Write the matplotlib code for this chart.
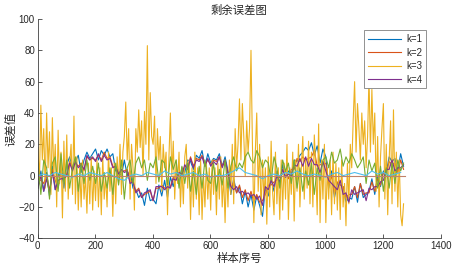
import matplotlib
matplotlib.use("Agg")
import matplotlib.pyplot as plt
import numpy as np

plt.rcParams["font.family"] = ["Liberation Sans", "Noto Sans CJK SC", "DejaVu Sans"]

TITLE = "剩余误差图"
XLABEL = "样本序号"
YLABEL = "误差值"
LEGEND_LABELS = ["k=1", "k=2", "k=3", "k=4"]

# residual errors, k=1 (sampled every 10 points)
k1_err = [
    -8, 3, -10, 2, -13, 6, -9, 0, 4, -8,
    7, 12, 5, 9, 13, 2, 10, 15, 11, 14,
    17, 10, 16, 13, 17, 12, 14, 3, 2, 0,
    10, 0, 3, -8, -9, -14, -11, -19, -8, -16,
    -15, -18, -6, -13, -3, -14, -1, -7, 2, -4,
    5, 2, 10, 9, 4, 13, 11, 16, 6, 14,
    8, 11, 10, 14, 6, 12, 3, -12, -2, -11,
    -7, -18, -10, -20, -12, -22, -13, -19, -26, -8,
    -13, -2, -10, 3, -6, 7, -1, 3, 0, 10,
    9, 13, 15, 18, 16, 21, 13, 19, 8, 17,
    12, -8, 3, -14, -5, -6, -7, -17, -14, -15,
    -7, -17, -5, -14, -12, -10, -2, -12, 0, -7,
    3, 2, 12, 9, 11, 3, 14, 6,
]

# k=2 (every 10 points)
k2_err = [
    -2, -3, -5, 1, -10, 4, -3, -8, 3, -1,
    1, 9, 4, 8, 6, 8, 3, 12, 10, 11,
    10, 13, 10, 15, 11, 12, 6, 5, 0, 3,
    3, 4, -4, -3, -10, -8, -14, -12, -11, -10,
    -16, -8, -8, -6, -8, -8, -7, -1, -2, 1,
    0, 6, 5, 12, 6, 11, 10, 13, 7, 10,
    7, 10, 9, 12, 6, 10, 1, -8, -4, -11,
    -6, -14, -9, -16, -10, -17, -12, -17, -16, -12,
    -6, -6, -4, -3, -1, 1, 3, -2, 4, 4,
    11, 9, 12, 10, 11, 12, 16, 6, 7, 7,
    8, -6, 0, -12, -4, -6, -7, -14, -12, -12,
    -7, -14, -5, -12, -11, -11, -4, -10, -2, -6,
    2, 1, 9, 7, 8, 2, 10, 4,
]

# k=3 (every 5 points)
k3_err = [
    18, -5, 45, 10, 30, -8, 40, 5, 28, -12,
    37, 0, 20, -20, 29, -5, 15, -27, 22, -10,
    26, -15, 8, 20, -12, 38, -18, 12, -22, 5,
    -20, 10, -15, 0, -24, 8, -18, 12, -22, 3,
    -16, 10, -20, 5, -25, 12, -15, 0, -20, 15,
    -10, 5, -26, 8, -18, 12, -5, 20, -12, 15,
    25, 47, 10, 30, -15, 20, 5, -22, 30, 15,
    42, 18, 35, 0, 41, 20, 83, 10, 53, 25,
    20, 38, -5, 30, 10, 25, -10, 20, 5, 15,
    -25, 12, 40, 0, 22, -15, 10, -5, 15, -20,
    5, -18, 12, 20, -8, 10, -28, 5, -20, 15,
    -15, 5, -25, 10, -28, 0, -20, 8, -15, 5,
    -22, 10, -12, 5, -25, 8, -15, 12, -20, 0,
    -30, 5, -20, 10, -12, 20, -18, 30, 5, 20,
    49, 10, 46, 25, 0, 35, 15, 30, 80, 20,
    -30, 15, 40, -10, 20, -25, 10, -15, 5, -31,
    12, -20, 22, -10, -25, 15, -18, 5, -28, 10,
    -22, 8, -15, 20, -28, 5, -12, 15, -29, 10,
    -10, 20, -20, 5, 25, -15, 10, -8, 22, -18,
    15, -20, 26, 5, -25, 33, -30, 10, -15, 20,
    -30, 5, -15, 10, -25, 15, -18, 8, -22, 5,
    -28, 10, -20, -5, -32, 8, -18, 20, 5, 35,
    60, 15, 46, 30, 10, 40, 20, 35, 5, 25,
    63, 15, 55, 20, 40, -10, 25, -20, 12, 30,
    46, -15, 20, -25, 10, 35, -18, 42, -10, 15,
    -20, 10, -25, -32, -18,
]

# k=4 (every 10 points)
k4_err = [
    -8, 0, -10, -2, -11, 2, -9, -3, -2, -2,
    0, 8, 3, 9, 5, 7, 4, 13, 10, 12,
    9, 14, 9, 13, 10, 11, 5, 6, 1, 4,
    2, 3, -5, -4, -11, -9, -14, -11, -10, -9,
    -16, -7, -7, -7, -9, -7, -8, -2, -3, 2,
    1, 7, 4, 11, 5, 10, 9, 12, 6, 11,
    6, 9, 7, 12, 5, 10, 2, -7, -9, -7,
    -11, -10, -12, -11, -13, -12, -15, -13, -19, -7,
    -9, -3, -7, 0, -4, 4, -1, 1, 0, 7,
    6, 11, 6, 12, 6, 11, 7, 7, 2, 9,
    3, -3, -5, -7, -9, -3, -12, -11, -17, -9,
    -12, -11, -10, -9, -16, -8, -9, -7, -7, -4,
    -3, 4, 4, 10, 3, 5, 5, 7,
]

# k=5 (every 10 points, not in legend)
k5_err = [
    8, -12, 10, 5, -15, 8, 12, -10, 14, -5,
    10, -8, 5, 12, -10, 8, -5, 10, -3, 6,
    -5, 8, -10, 2, -8, 5, -12, 8, -6, 10,
    -15, 5, 10, -5, 8, 12, 5, 10, -3, 8,
    5, 12, -4, 10, 8, -6, 12, 4, 10, -8,
    6, -5, 8, -10, 3, -12, 6, -8, 10, -3,
    -5, 8, -10, 4, -6, 10, -8, 6, 12, 3,
    8, 5, 12, 15, 10, 8, 16, 12, 5, 10,
    8, -3, 12, 5, -8, 10, 3, 8, -5, 10,
    -8, 5, -10, 3, -6, 8, -12, 5, -3, 10,
    12, 5, 15, 8, 10, 17, 6, 12, 8, 14,
    10, 5, 8, 12, -5, 10, 3, 8, -8, 6,
    -10, 5, -8, 8, -5, 10, 3, 8,
]

# k=6 (every 20 points, not in legend)
k6_err = [
    0, 1, 0, 2, 1, 0, -1, 1, 0, 2, 1, 0, 2, 0, -2, -3,
    0, 1, 0, 2, 1, 0, 3, 1, 2, 0, 1, 2, 0, 1, -1, 0,
    0, 1, 3, 5, 2, 1, 0, -2, 0, 1, 0, 2, 1, 3, 1, 0,
    1, 0, -1, 1, 2, 0, 1, 2, 1, 0, 3, 1, 2, 0, 1, 2,
]

# k=7 flat residual
k7_idx = [1, 1275]
k7_err = [0, 0]

COLORS = ["#0072BD", "#D95319", "#EDB120", "#7E2F8E", "#77AC30", "#4DBEEE", "#C0826A"]


def idx(values, step):
    return 1 + step * np.arange(len(values))


fig = plt.figure(figsize=(4.53, 2.71), dpi=100)
ax = fig.add_axes([0.0832, 0.1207, 0.8896, 0.8092])

series = [
    (idx(k1_err, 10), k1_err),
    (idx(k2_err, 10), k2_err),
    (idx(k3_err, 5), k3_err),
    (idx(k4_err, 10), k4_err),
    (idx(k5_err, 10), k5_err),
    (idx(k6_err, 20), k6_err),
    (k7_idx, k7_err),
]
handles = []
for i, (xs, ys) in enumerate(series):
    (ln,) = ax.plot(xs, ys, color=COLORS[i], lw=0.8)
    handles.append(ln)

ax.set_xlim(0, 1400)
ax.set_ylim(-40, 100)
ax.set_xticks(np.arange(0, 1401, 200))
ax.set_yticks(np.arange(-40, 101, 20))

txt = "#262626"
ax.tick_params(direction="in", length=3, width=0.6, colors="#404040",
               labelsize=7, labelcolor=txt, pad=2)
for side in ["top", "right"]:
    ax.spines[side].set_visible(False)
for side in ["left", "bottom"]:
    ax.spines[side].set_color("#404040")
    ax.spines[side].set_linewidth(0.6)

ax.set_title(TITLE, fontsize=8.2, color=txt, pad=3.5,
             family=["Noto Sans CJK SC"])
ax.set_xlabel(XLABEL, fontsize=8.2, color=txt, labelpad=1.5,
              family=["Noto Sans CJK SC"])
ax.set_ylabel(YLABEL, fontsize=8.2, color=txt, labelpad=1.5,
              family=["Noto Sans CJK SC"])

leg = ax.legend(handles[:4], LEGEND_LABELS, loc="upper right", fontsize=7,
                handlelength=3.4, labelspacing=0.35, borderpad=0.4,
                handletextpad=0.5, fancybox=False, framealpha=1,
                bbox_to_anchor=(0.976, 0.97))
leg.get_frame().set_edgecolor("#808080")
leg.get_frame().set_linewidth(0.6)
for t in leg.get_texts():
    t.set_color(txt)

fig.savefig("out.png", dpi=100)
